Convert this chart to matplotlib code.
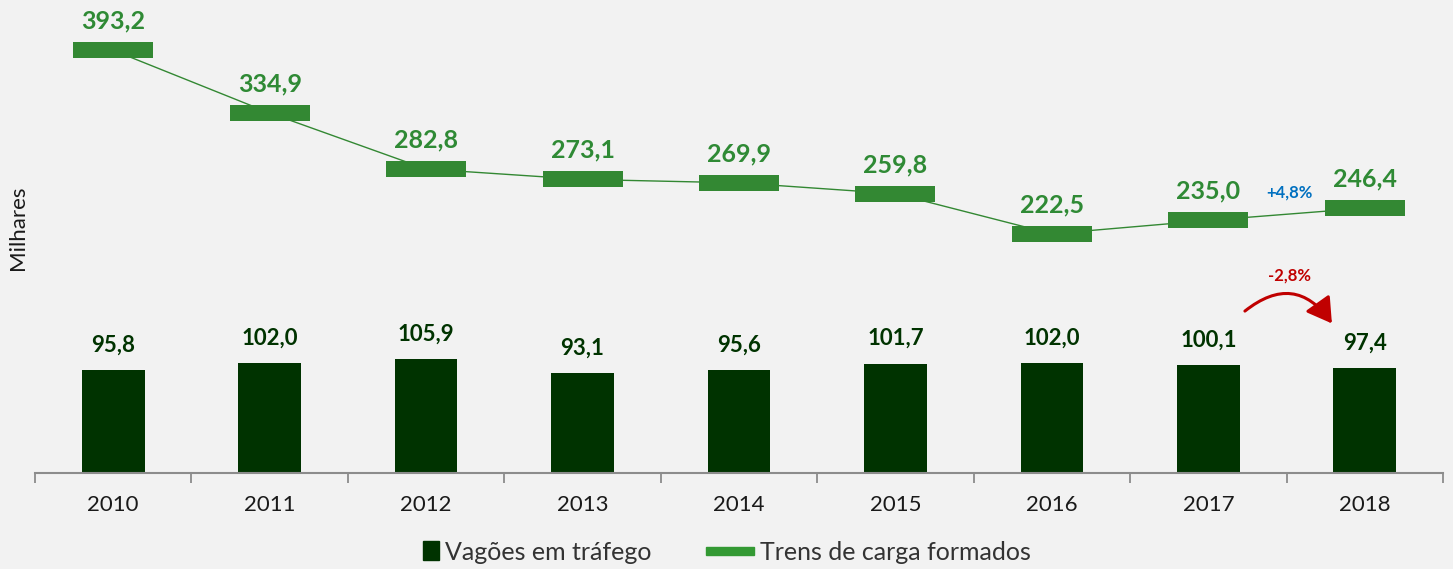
import matplotlib
matplotlib.use("Agg")
import matplotlib.pyplot as plt
import matplotlib.path as mpath
from matplotlib.patches import Patch, Rectangle, FancyArrowPatch
from matplotlib.legend_handler import HandlerPatch

years = ["2010", "2011", "2012", "2013", "2014", "2015", "2016", "2017", "2018"]
vagoes = [95.8, 102.0, 105.9, 93.1, 95.6, 101.7, 102.0, 100.1, 97.4]
trens = [393.2, 334.9, 282.8, 273.1, 269.9, 259.8, 222.5, 235.0, 246.4]
var_trens = "+4,8%"
var_vagoes = "-2,8%"

BG = "#f2f2f2"
DARK = "#003300"
GREEN = "#338833"
LABEL_GREEN = "#2f8a35"
FONT = "Lato"

plt.rcParams["font.family"] = [FONT, "DejaVu Sans"]

fig = plt.figure(figsize=(14.53, 5.69), dpi=100, facecolor=BG)
ax = fig.add_axes([35 / 1453, 1 - 473 / 569, 1408 / 1453, 473 / 569])
ax.set_facecolor(BG)

x = list(range(len(years)))
ax.bar(x, vagoes, width=0.40, color=DARK, zorder=2)

rect = mpath.Path([(-2.5, -0.5), (2.5, -0.5), (2.5, 0.5), (-2.5, 0.5), (-2.5, -0.5)],
                  [1, 2, 2, 2, 79])
ax.plot(x, trens, color=GREEN, lw=1, marker=rect, markersize=58,
        markerfacecolor=GREEN, markeredgecolor=GREEN, markeredgewidth=0, zorder=3)

def fmt(v):
    return f"{v:.1f}".replace(".", ",")

for xi, v in zip(x, trens):
    ax.annotate(fmt(v), (xi, v), xytext=(0, 21), textcoords="offset points",
                ha="center", va="center", fontsize=18, fontweight="bold",
                color=LABEL_GREEN, zorder=4)
for xi, v in zip(x, vagoes):
    ax.annotate(fmt(v), (xi, v), xytext=(0, 18), textcoords="offset points",
                ha="center", va="center", fontsize=16, fontweight="bold",
                color=DARK, zorder=4)

# variation annotations
ax.text(7.52, 260.5, var_trens, ha="center", va="center", fontsize=12,
        fontweight="bold", color="#0070c0")
ax.text(7.52, 184, var_vagoes, ha="center", va="center", fontsize=12,
        fontweight="bold", color="#c00000")
arr = FancyArrowPatch((7.22, 149), (7.80, 137), connectionstyle="arc3,rad=-0.55",
                      arrowstyle="-|>,head_length=10,head_width=6", color="#c00000",
                      lw=2.2, mutation_scale=1.5)
ax.add_patch(arr)

ax.set_xlim(-0.5, len(years) - 0.5)
ax.set_ylim(0, 440)
for s in ["top", "right", "left"]:
    ax.spines[s].set_visible(False)
ax.spines["bottom"].set_color("#8c8c8c")
ax.spines["bottom"].set_linewidth(1.5)
ax.set_yticks([])
ax.set_xticks([i - 0.5 for i in range(len(years) + 1)], minor=False)
ax.set_xticklabels([])
ax.tick_params(axis="x", which="major", length=7, width=1.3, color="#8c8c8c", direction="out")
ax.set_xticks(x, minor=True)
ax.set_xticklabels(years, minor=True, fontsize=16, color="#1a1a1a")
ax.tick_params(axis="x", which="minor", length=0, pad=16)

fig.text(18 / 1453, 1 - 228 / 569, "Milhares", rotation=90, ha="center", va="center",
         fontsize=16, color="#1a1a1a")

def square_patch(legend, orig_handle, xdescent, ydescent, width, height, fontsize):
    w = height * 0.9
    return Rectangle((width - w - xdescent, -ydescent - 0.05 * height), w, height * 1.1)

def bar_patch(legend, orig_handle, xdescent, ydescent, width, height, fontsize):
    return Rectangle((-xdescent, -ydescent + 0.27 * height), width, height * 0.46)

h1 = Patch(color=DARK, label="Vagões em tráfego")
h2 = Patch(color="#339933", label="Trens de carga formados")
fig.legend(handles=[h1, h2], loc="center", bbox_to_anchor=(711 / 1453, 1 - 552 / 569),
           ncol=2, frameon=False, fontsize=18, handlelength=1.9, handleheight=0.7,
           handletextpad=0.25, columnspacing=2.2, labelcolor="#333333",
           borderpad=0.2,
           handler_map={h1: HandlerPatch(patch_func=square_patch),
                        h2: HandlerPatch(patch_func=bar_patch)})

fig.savefig("out.png", dpi=100, facecolor=BG)
